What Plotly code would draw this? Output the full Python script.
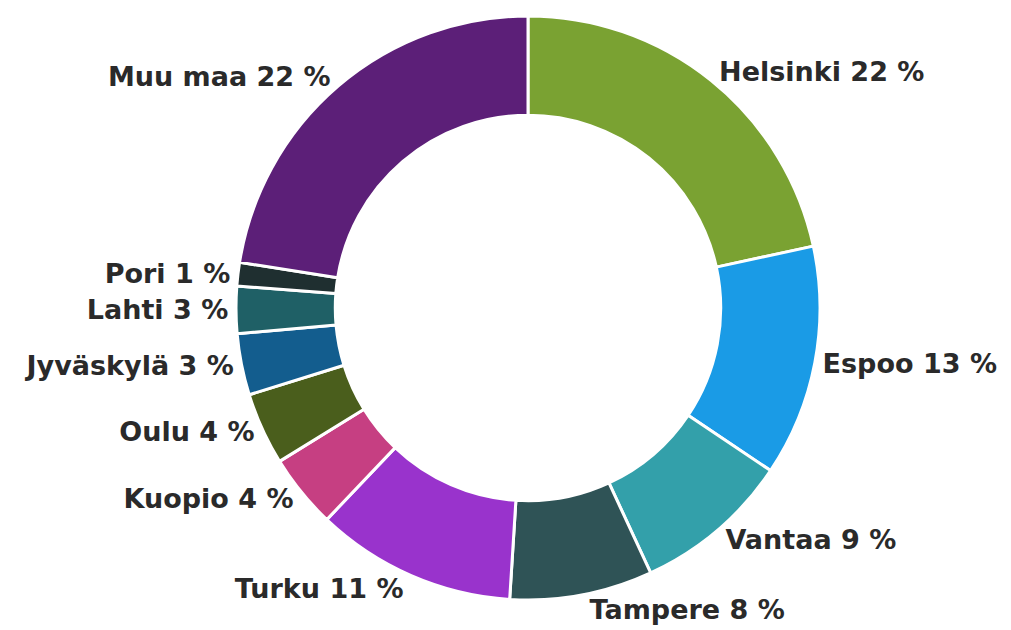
import plotly.graph_objects as go

labels = ["Helsinki", "Espoo", "Vantaa", "Tampere", "Turku", "Kuopio", "Oulu",
          "Jyväskylä", "Lahti", "Pori", "Muu maa"]
values = [21.6, 12.8, 8.7, 7.9, 11.1, 4.1, 4.0, 3.4, 2.6, 1.3, 22.5]
colors = ["#7aa232", "#1a9be6", "#33a0aa", "#2f5356", "#9933cc", "#c63f82",
          "#4a5e1c", "#135d8e", "#1f6066", "#1f2f30", "#5c1f78"]

total = sum(values)
texts = [f"{l} {round(v / total * 100)} %" for l, v in zip(labels, values)]

font = dict(family="DejaVu Sans", size=27, color="#2a2a2a", weight="bold")

fig = go.Figure(go.Pie(
    labels=labels,
    values=values,
    text=texts,
    textinfo="text",
    textposition="outside",
    hole=0.66,
    sort=False,
    direction="clockwise",
    rotation=0,
    marker=dict(colors=colors, line=dict(color="white", width=3)),
    textfont=font,
    outsidetextfont=font,
    domain=dict(x=[(520 - 292) / 1011, (520 + 292) / 1011], y=[0, 1]),
    hoverinfo="skip",
))

fig.update_layout(
    width=1011, height=630,
    margin=dict(l=0, r=0, t=8, b=38),
    showlegend=False,
    paper_bgcolor="white",
    plot_bgcolor="white",
)

fig.write_html("out.html")
